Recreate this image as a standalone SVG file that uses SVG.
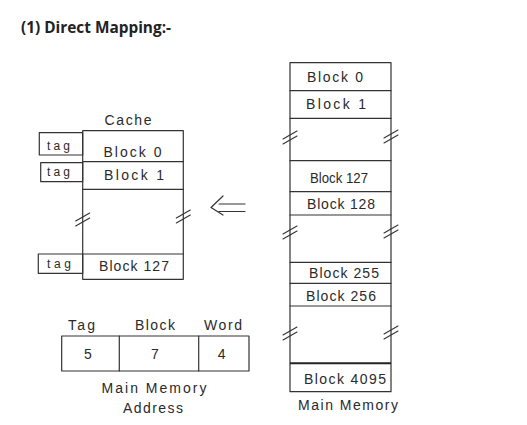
<svg xmlns="http://www.w3.org/2000/svg" width="527" height="425" viewBox="0 0 527 425">
  <style>
    .title { font-family: "Open Sans", "Noto Sans", "Liberation Sans", sans-serif; font-weight: bold; font-size: 16px; fill: #222; }
    .hw { font-family: "Liberation Sans", "DejaVu Sans", sans-serif; font-size: 14px; fill: #2a2a2a; text-anchor: middle; }
    .hs { font-family: "Liberation Sans", "DejaVu Sans", sans-serif; font-size: 12px; fill: #2a2a2a; text-anchor: middle; }
    .ln { fill: none; stroke: #333; stroke-width: 1.2; stroke-linecap: round; stroke-linejoin: round; }
    .thick { fill: none; stroke: #222; stroke-width: 2; }
    .brk { stroke: #333; stroke-width: 1.1; stroke-linecap: round; }
  </style>
  <defs>
    <g id="brk">
      <line class="brk" x1="-7" y1="1" x2="7" y2="-7"/>
      <line class="brk" x1="-7" y1="6" x2="7" y2="-2"/>
    </g>
  </defs>
  <rect width="527" height="425" fill="#fff"/>

  <text class="title" x="21" y="33" textLength="150" lengthAdjust="spacingAndGlyphs">(1) Direct Mapping:-</text>

  <!-- Cache -->
  <g id="cache">
    <text class="hw" x="128" y="124.5" textLength="47">Cache</text>
    <rect class="ln" x="82.7" y="130.7" width="100.6" height="148.6"/>
    <line class="ln" x1="82.7" y1="161.7" x2="183.3" y2="161.7"/>
    <line class="ln" x1="82.7" y1="189.3" x2="183.3" y2="189.3"/>
    <line class="ln" x1="82.7" y1="254" x2="183.3" y2="254"/>
    <text class="hw" x="132.5" y="156.5" textLength="58">Block 0</text>
    <text class="hw" x="134" y="180" textLength="60">Block 1</text>
    <text class="hw" x="134" y="270.5" textLength="70">Block 127</text>
    <use href="#brk" x="82.7" y="220"/>
    <use href="#brk" x="183.3" y="217"/>
  </g>

  <g id="tag0">
    <rect class="ln" x="39.3" y="132.7" width="43.4" height="22.3"/>
    <text class="hs" x="58.5" y="150" textLength="23">tag</text>
  </g>
  <g id="tag1">
    <rect class="ln" x="40.7" y="162.7" width="42" height="19"/>
    <text class="hs" x="58.5" y="176" textLength="23">tag</text>
  </g>
  <g id="tag127">
    <rect class="ln" x="38.3" y="254" width="44.4" height="19.3"/>
    <text class="hs" x="59" y="267.5" textLength="24">tag</text>
  </g>

  <!-- Main memory -->
  <g id="main-memory">
    <rect class="ln" x="290" y="62.7" width="101" height="329"/>
    <line class="ln" x1="290" y1="90.7" x2="391" y2="90.7"/>
    <line class="ln" x1="290" y1="118.3" x2="391" y2="118.3"/>
    <line class="ln" x1="290" y1="160.7" x2="391" y2="160.7"/>
    <line class="ln" x1="290" y1="191.7" x2="391" y2="191.7"/>
    <line class="ln" x1="290" y1="215" x2="391" y2="215"/>
    <line class="ln" x1="290" y1="262.3" x2="391" y2="262.3"/>
    <line class="ln" x1="290" y1="283.3" x2="391" y2="283.3"/>
    <line class="ln" x1="290" y1="306" x2="391" y2="306"/>
    <line class="thick" x1="290" y1="363.3" x2="391" y2="363.3"/>
    <text class="hw" x="335" y="82" textLength="56">Block 0</text>
    <text class="hw" x="336" y="108.5" textLength="60">Block 1</text>
    <text class="hw" x="339" y="183" textLength="58" lengthAdjust="spacingAndGlyphs">Block 127</text>
    <text class="hw" x="341" y="208.5" textLength="68">Block 128</text>
    <text class="hw" x="344" y="278" textLength="70">Block 255</text>
    <text class="hw" x="341" y="301" textLength="70">Block 256</text>
    <text class="hw" x="345" y="383.5" textLength="82">Block 4095</text>
    <text class="hw" x="348" y="410" textLength="100">Main Memory</text>
    <use href="#brk" x="290" y="138"/>
    <use href="#brk" x="391" y="137"/>
    <use href="#brk" x="290" y="233"/>
    <use href="#brk" x="391" y="232"/>
    <use href="#brk" x="290" y="334"/>
    <use href="#brk" x="391" y="333"/>
  </g>

  <!-- Address -->
  <g id="address">
    <text class="hw" x="81.5" y="330" textLength="27">Tag</text>
    <text class="hw" x="155" y="330" textLength="40">Block</text>
    <text class="hw" x="223" y="330" textLength="38">Word</text>
    <rect class="ln" x="61.7" y="336" width="187.3" height="35"/>
    <line class="ln" x1="119.3" y1="336" x2="119.3" y2="371"/>
    <line class="ln" x1="198.7" y1="336" x2="198.7" y2="371"/>
    <text class="hw" x="88" y="358.5">5</text>
    <text class="hw" x="155" y="358.5">7</text>
    <text class="hw" x="221.7" y="358.5">4</text>
    <text class="hw" x="154" y="392.5" textLength="105">Main Memory</text>
    <text class="hw" x="153" y="413" textLength="60">Address</text>
  </g>

  <!-- Connectors -->
  <g id="connectors">
    <polyline class="ln" points="223,196 211,207.5 223,215"/>
    <line class="ln" x1="219" y1="204" x2="245" y2="204"/>
    <line class="ln" x1="219" y1="211.5" x2="245" y2="211.5"/>
  </g>
</svg>
